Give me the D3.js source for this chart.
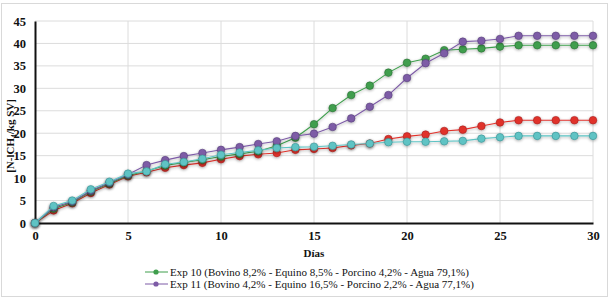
<!DOCTYPE html>
<html>
<head>
<meta charset="utf-8">
<script src="https://cdn.jsdelivr.net/npm/d3@7"></script>
<style>
  body { margin: 0; background: #fff; }
  svg text { font-family: "Liberation Serif", "DejaVu Serif", serif; }
</style>
</head>
<body>
<div id="chart"></div>
<script>
// data
const days = d3.range(0, 31);
const exp10 = [0, 3.2, 4.6, 7.0, 8.8, 10.6, 11.6, 12.8, 13.5, 14.1, 14.8, 15.4, 16.0, 17.2, 19.0, 22.0, 25.6, 28.5, 30.6, 33.5, 35.7, 36.6, 38.5, 38.7, 38.9, 39.3, 39.6, 39.6, 39.6, 39.6, 39.6];
const exp11 = [0, 3.5, 4.8, 7.2, 9.0, 10.8, 12.9, 14.0, 14.9, 15.6, 16.3, 16.9, 17.6, 18.2, 19.4, 19.9, 21.4, 23.3, 25.9, 28.5, 32.3, 35.6, 37.8, 40.4, 40.6, 41.0, 41.7, 41.7, 41.7, 41.7, 41.7];
const expRed = [0, 2.8, 4.4, 6.7, 8.6, 10.4, 11.3, 12.3, 12.9, 13.4, 14.2, 14.9, 15.3, 15.6, 16.3, 16.5, 16.7, 17.3, 17.7, 18.7, 19.3, 19.7, 20.5, 20.8, 21.6, 22.4, 22.9, 22.9, 22.9, 22.9, 22.9];
const expCyan = [0, 3.8, 5.0, 7.5, 9.2, 11.0, 11.5, 13.1, 13.6, 14.3, 15.2, 15.7, 16.2, 16.7, 16.9, 17.0, 17.2, 17.5, 17.7, 18.0, 18.1, 18.1, 18.2, 18.3, 18.8, 19.1, 19.4, 19.4, 19.4, 19.4, 19.4];
const xTicks = [0, 5, 10, 15, 20, 25, 30];
const yTicks = [0, 5, 10, 15, 20, 25, 30, 35, 40, 45];
const legendLabels = [
  "Exp 10 (Bovino 8,2% - Equino 8,5% - Porcino 4,2% - Agua 79,1%)",
  "Exp 11 (Bovino 4,2% - Equino 16,5% - Porcino 2,2% - Agua 77,1%)"
];

const serif = "'Liberation Serif', 'Times New Roman', serif";

// series in drawing order (back to front)
const series = [
  { values: expRed, color: "#e0322c", edge: "#a8201c" },
  { values: exp10, color: "#3f9e4d", edge: "#2a6e34" },
  { values: exp11, color: "#7d5ba6", edge: "#583f7a" },
  { values: expCyan, color: "#5ec3c4", edge: "#3b8e90" }
];

const width = 611, height = 300;
const margin = { left: 35, right: 18, top: 21, bottom: 77 };

const svg = d3.select("#chart").append("svg")
  .attr("width", width)
  .attr("height", height);

// soft shadow like the original export
const defs = svg.append("defs");
const shadow = defs.append("filter").attr("id", "shadow")
  .attr("x", "-50%").attr("y", "-50%").attr("width", "200%").attr("height", "200%");
shadow.append("feGaussianBlur").attr("in", "SourceAlpha").attr("stdDeviation", 1.6).attr("result", "blur");
shadow.append("feOffset").attr("dx", 0).attr("dy", 1).attr("result", "off");
shadow.append("feComponentTransfer").append("feFuncA").attr("type", "linear").attr("slope", 0.35);
const merge = shadow.append("feMerge");
merge.append("feMergeNode");
merge.append("feMergeNode").attr("in", "SourceGraphic");

// outer frame
svg.append("rect")
  .attr("x", 1.5).attr("y", 3.5)
  .attr("width", 606).attr("height", 293)
  .attr("fill", "none")
  .attr("stroke", "#d9d9d9");

const x = d3.scaleLinear().domain([0, 30]).range([margin.left, width - margin.right]);
const y = d3.scaleLinear().domain([0, 45]).range([height - margin.bottom, margin.top]);

// grid
svg.append("g").selectAll("line.h")
  .data(yTicks.filter(d => d > 0))
  .join("line")
  .attr("x1", x(0)).attr("x2", x(30))
  .attr("y1", d => y(d)).attr("y2", d => y(d))
  .attr("stroke", "#dcdcdc").attr("stroke-width", 1);

svg.append("g").selectAll("line.v")
  .data(xTicks.filter(d => d > 0))
  .join("line")
  .attr("x1", d => x(d)).attr("x2", d => x(d))
  .attr("y1", y(0)).attr("y2", y(45))
  .attr("stroke", "#dcdcdc").attr("stroke-width", 1);

// axes
const xAxis = svg.append("g")
  .attr("transform", `translate(0,${y(0)})`)
  .call(d3.axisBottom(x).tickValues(xTicks).tickSize(0).tickPadding(8));
const yAxis = svg.append("g")
  .attr("transform", `translate(${x(0)},0)`)
  .call(d3.axisLeft(y).tickValues(yTicks).tickSize(0).tickPadding(9));

[xAxis, yAxis].forEach(a => {
  a.attr("font-family", serif);
  a.select(".domain").attr("stroke", "#111").attr("stroke-width", 2);
  a.selectAll("text")
    .attr("fill", "#111")
    .attr("font-family", serif)
    .attr("font-weight", "bold")
    .attr("font-size", 12.5);
});

// axis titles
svg.append("text")
  .attr("x", x(15)).attr("y", 257)
  .attr("text-anchor", "middle")
  .attr("fill", "#111")
  .attr("font-family", serif)
  .attr("font-weight", "bold").attr("font-size", 11)
  .text("Días");

const yTitle = svg.append("text")
  .attr("transform", `translate(14,${y(22.5) + 14}) rotate(-90)`)
  .attr("text-anchor", "middle")
  .attr("fill", "#111")
  .attr("font-family", serif)
  .attr("font-weight", "bold").attr("font-size", 11);
yTitle.append("tspan").text("[N-lCH");
yTitle.append("tspan").attr("dy", 3).attr("font-size", 7.5).text("4");
yTitle.append("tspan").attr("dy", -3).text("/kg SV]");

// lines + markers
const line = d3.line()
  .x((d, i) => x(days[i]))
  .y(d => y(d));

series.forEach(s => {
  const g = svg.append("g").attr("filter", "url(#shadow)");
  g.append("path")
    .datum(s.values)
    .attr("d", line)
    .attr("fill", "none")
    .attr("stroke", s.color)
    .attr("stroke-width", 1.1);
  g.selectAll("circle")
    .data(s.values)
    .join("circle")
    .attr("cx", (d, i) => x(days[i]))
    .attr("cy", d => y(d))
    .attr("r", 3.8)
    .attr("fill", s.color)
    .attr("stroke", s.edge)
    .attr("stroke-width", 0.6);
});

// legend
const legendColors = [series[1].color, series[2].color];
const legend = svg.append("g");
legendLabels.forEach((label, i) => {
  const ly = 272 + i * 12;
  legend.append("line")
    .attr("x1", 145).attr("x2", 168)
    .attr("y1", ly).attr("y2", ly)
    .attr("stroke", legendColors[i]).attr("stroke-width", 1);
  legend.append("circle")
    .attr("cx", 156).attr("cy", ly).attr("r", 2.6)
    .attr("fill", legendColors[i]);
  legend.append("text")
    .attr("x", 170).attr("y", ly + 4)
    .attr("fill", "#111")
    .attr("font-family", serif)
    .attr("font-size", 11)
    .text(label);
});
</script>
</body>
</html>
